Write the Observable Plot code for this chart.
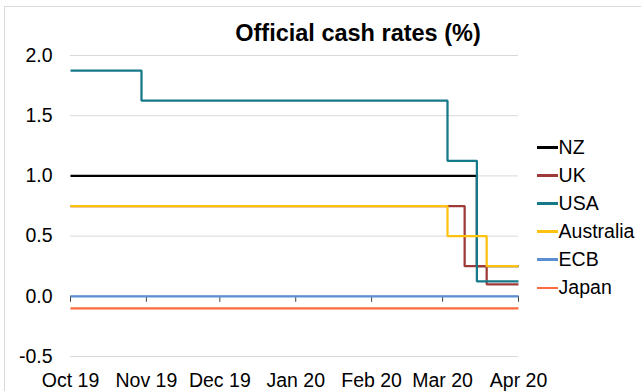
<!DOCTYPE html>
<html>
<head>
<meta charset="utf-8">
<script src="https://cdn.jsdelivr.net/npm/d3@7"></script>
<script src="https://cdn.jsdelivr.net/npm/@observablehq/plot@0.6"></script>
<style>
  html, body { margin: 0; padding: 0; background: #fff; overflow: hidden; }
  #wrap { position: relative; width: 641px; height: 391px; font-family: "Liberation Sans", Arial, sans-serif; }
  #frame { position: absolute; left: 4px; top: 6px; width: 700px; height: 420px; border: 1px solid #d9d9d9; box-sizing: border-box; pointer-events: none; }
  #title { position: absolute; left: 358px; top: 22px; transform: translateX(-50%); white-space: nowrap;
           font-weight: bold; font-size: 23.5px; line-height: 23.5px; color: #000; }
  #legend { position: absolute; left: 537px; top: 133.25px; }
  .item { display: flex; align-items: center; height: 28.1px; font-size: 19.5px; color: #000; }
  .swatch { width: 20.6px; height: 2.5px; margin-right: 1px; }
  #chart { position: absolute; left: 0; top: 0; }
</style>
</head>
<body>
<div id="wrap">
  <div id="chart"></div>
  <div id="frame"></div>
  <div id="title">Official cash rates (%)</div>
  <div id="legend"></div>
</div>
<script>
// Policy rate paths: each list holds the dates a rate took effect and the rate from then on.
const seriesNames = ["NZ", "UK", "USA", "Australia", "ECB", "Japan"];
const seriesColors = ["#000000", "#9e3a38", "#16798a", "#ffc20e", "#5b8fd1", "#ff6a3d"];

const nzDates = ["2019-10-01", "2020-03-15", "2020-04-01"];
const nzRates = [1.0, 0.25, 0.25];

const ukDates = ["2019-10-01", "2020-03-10", "2020-03-19", "2020-04-01"];
const ukRates = [0.75, 0.25, 0.1, 0.1];

const usaDates = ["2019-10-01", "2019-10-30", "2020-03-03", "2020-03-15", "2020-04-01"];
const usaRates = [1.875, 1.625, 1.125, 0.125, 0.125];

const ausDates = ["2019-10-01", "2020-03-03", "2020-03-19", "2020-04-01"];
const ausRates = [0.75, 0.5, 0.25, 0.25];

const ecbDates = ["2019-10-01", "2020-04-01"];
const ecbRates = [0.0, 0.0];

const japanDates = ["2019-10-01", "2020-04-01"];
const japanRates = [-0.1, -0.1];

const yTicks = [-0.5, 0.0, 0.5, 1.0, 1.5, 2.0];
const monthTicks = ["2019-10-01", "2019-11-01", "2019-12-01", "2020-01-01", "2020-02-01", "2020-03-01", "2020-04-01"];

// Long-format table, in drawing order
const parse = d3.utcParse("%Y-%m-%d");
const seriesData = [
  [nzDates, nzRates], [ukDates, ukRates], [usaDates, usaRates],
  [ausDates, ausRates], [ecbDates, ecbRates], [japanDates, japanRates]
];
const rows = seriesData.flatMap(([dates, rates], i) =>
  dates.map((d, j) => ({ country: seriesNames[i], date: parse(d), rate: rates[j] }))
);
const months = monthTicks.map(parse);
const monthFmt = d3.utcFormat("%b %y");

const chart = Plot.plot({
  width: 641,
  height: 391,
  marginLeft: 70,
  marginRight: 123,
  marginTop: 55,
  marginBottom: 35,
  style: { fontFamily: "'Liberation Sans', Arial, sans-serif", fontSize: "19.5px", color: "#000", background: "transparent" },
  x: { type: "utc", domain: [months[0], months[months.length - 1]], label: null },
  y: { domain: [-0.5, 2.0], label: null },
  color: { domain: seriesNames, range: seriesColors },
  marks: [
    // horizontal gridlines
    Plot.ruleY(yTicks.filter(v => v !== 0), { stroke: "#d9d9d9", strokeWidth: 1 }),
    // category axis line sits at zero
    Plot.ruleY([0], { stroke: "#868686", strokeWidth: 1 }),
    Plot.ruleX(months, { x: d => d, y1: 0, y2: 0, insetBottom: -6, stroke: "#404040", strokeWidth: 1 }),
    Plot.axisY({ ticks: yTicks, tickSize: 0, tickPadding: 18, tickFormat: d => d.toFixed(1), label: null }),
    Plot.axisX({ ticks: months, tickSize: 0, tickPadding: 17, tickFormat: monthFmt, label: null }),
    Plot.line(rows, {
      x: "date", y: "rate", z: "country", stroke: "country",
      curve: "step-after", strokeWidth: 2.25, strokeLinejoin: "miter", strokeLinecap: "butt"
    })
  ]
});
document.getElementById("chart").appendChild(chart);

// Legend to the right of the plot
const legend = document.getElementById("legend");
seriesNames.forEach((name, i) => {
  const item = document.createElement("div");
  item.className = "item";
  const sw = document.createElement("span");
  sw.className = "swatch";
  sw.style.background = seriesColors[i];
  const label = document.createElement("span");
  label.textContent = name;
  item.appendChild(sw);
  item.appendChild(label);
  legend.appendChild(item);
});
</script>
</body>
</html>
